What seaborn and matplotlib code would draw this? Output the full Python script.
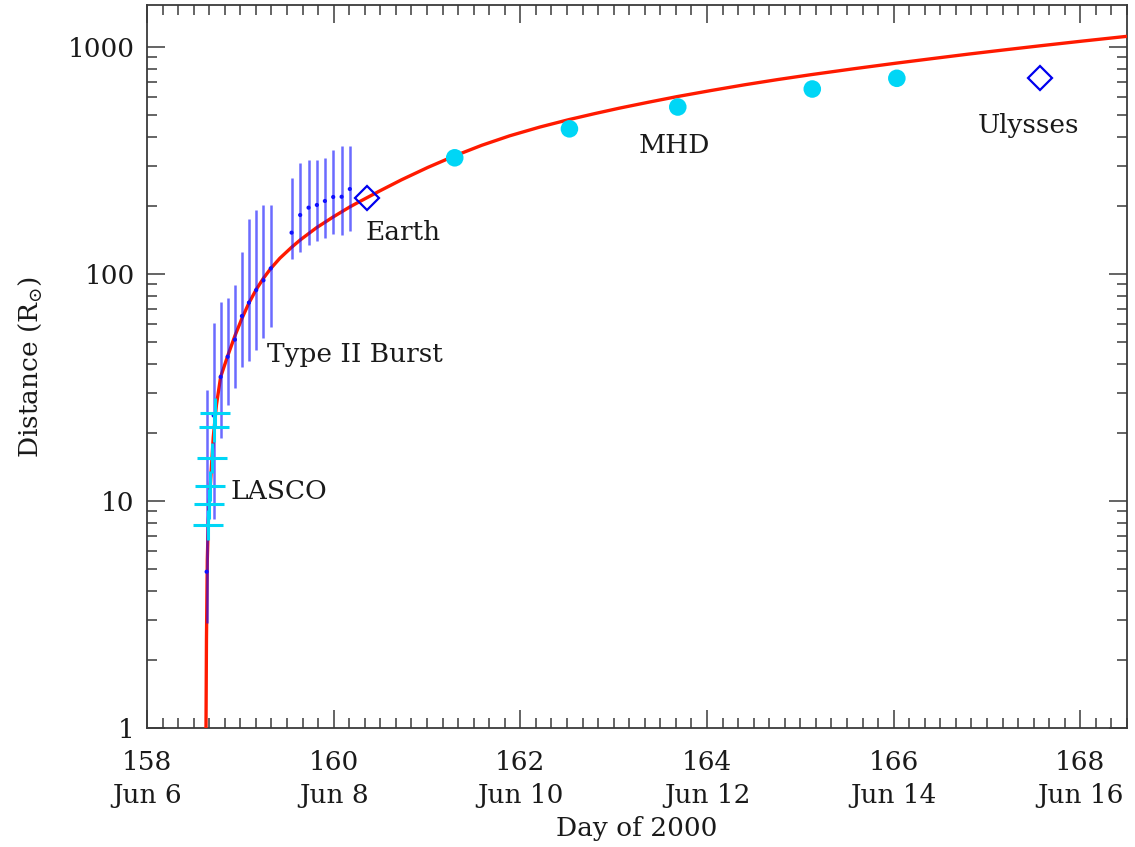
import numpy as np
import pandas as pd
import matplotlib
matplotlib.use("Agg")
import matplotlib.pyplot as plt
import seaborn as sns
from matplotlib.ticker import FixedLocator, MultipleLocator, LogLocator, NullFormatter

# ---------------- data ----------------
fit_day = [158.632, 158.637, 158.646, 158.658, 158.682, 158.710, 158.744, 158.789,
           158.864, 158.942, 159.017, 159.092, 159.170, 159.247, 159.325, 159.424,
           159.549, 159.641, 159.817, 159.995, 160.173, 160.281, 160.495, 160.727,
           161.009, 161.293, 161.587, 161.887, 162.208, 162.521, 162.797, 163.064,
           163.375, 163.681, 164.039, 164.403, 164.756, 165.120, 165.570, 166.026,
           166.415, 166.812, 167.186, 167.570, 168.032, 168.493]
fit_dist = [1.0, 2.44, 5.50, 8.25, 12.4, 19.1, 26.5, 35.2,
            43.5, 53.4, 63.7, 74.5, 85.4, 95.7, 105.6, 117.4,
            131.1, 141.2, 160.0, 178.4, 197.5, 208.7, 232.4, 260.0,
            294.8, 331.0, 369.0, 406.3, 443.8, 478.8, 508.8, 538.0,
            571.3, 604.7, 642.6, 681.6, 718.5, 755.8, 801.7, 848.7,
            889.0, 931.5, 971.0, 1012.3, 1062.7, 1113.5]

typeii_day = [158.639, 158.714, 158.789, 158.864, 158.942, 159.017, 159.092, 159.170,
              159.248, 159.326, 159.549, 159.641, 159.731, 159.820, 159.906, 159.995,
              160.085, 160.173]
typeii_dist = [4.88, 23.8, 35.2, 43.2, 51.4, 65.3, 74.8, 85.0,
               93.8, 105.9, 152.1, 181.9, 196.0, 201.4, 209.7, 218.4,
               218.9, 236.8]
typeii_hi = [30.8, 61.0, 75.5, 78.2, 89.4, 124.6, 174.2, 191.4,
             201.4, 201.4, 264.0, 309.3, 317.8, 317.8, 325.3, 351.8,
             367.5, 367.5]
typeii_lo = [2.90, 8.33, 18.9, 26.5, 31.5, 39.0, 41.5, 46.3,
             52.1, 58.2, 116.1, 124.6, 134.2, 139.8, 144.5, 150.1,
             148.5, 154.6]

lasco_day = [158.658, 158.667, 158.675, 158.693, 158.717, 158.733]
lasco_dist = [7.86, 9.73, 11.7, 15.5, 21.2, 24.4]

mhd_day = [161.297, 162.526, 163.687, 165.128, 166.034]
mhd_dist = [325, 436, 544, 653, 728]

probe_names = ["Earth", "Ulysses"]
probe_day = [160.355, 167.565]
probe_dist = [216, 728]

tick_days = [158, 160, 162, 164, 166, 168]
tick_dates = ["Jun 6", "Jun 8", "Jun 10", "Jun 12", "Jun 14", "Jun 16"]
ytick_vals = [1, 10, 100, 1000]

# ---------------- style ----------------
sns.set_style("ticks")
plt.rcParams["font.family"] = ["DejaVu Serif"]
plt.rcParams["mathtext.fontset"] = "dejavuserif"
plt.rcParams["axes.edgecolor"] = "#3a3a3a"
plt.rcParams["xtick.color"] = "#3a3a3a"
plt.rcParams["ytick.color"] = "#3a3a3a"
plt.rcParams["xtick.labelcolor"] = "#1a1a1a"
plt.rcParams["ytick.labelcolor"] = "#1a1a1a"

CYAN = "#00D6F6"
BLUE = "#1010FF"
RED = "#FF1A00"
FS = 19
TXT = "#1a1a1a"

fig = plt.figure(figsize=(11.35, 8.47), dpi=100)
ax = fig.add_axes([147 / 1135, 1 - 728 / 847, 980 / 1135, 723 / 847])
ax.set_yscale("log")

fit_df = pd.DataFrame({"day": fit_day, "dist": fit_dist})
sns.lineplot(data=fit_df, x="day", y="dist", ax=ax, color=RED, lw=2.4,
             estimator=None, sort=False, zorder=3)

ax.vlines(typeii_day, typeii_lo, typeii_hi, colors=BLUE, alpha=0.62, lw=1.8, zorder=4)
sns.scatterplot(x=typeii_day, y=typeii_dist, ax=ax, color=BLUE, s=9,
                edgecolor="none", zorder=5)

ax.plot(lasco_day, lasco_dist, ls="none", marker="+", ms=22, mew=2.2,
        color=CYAN, zorder=6)

sns.scatterplot(x=mhd_day, y=mhd_dist, ax=ax, color=CYAN, s=160,
                edgecolor="none", zorder=6)

ax.plot(probe_day, probe_dist, ls="none", marker="D", ms=12, mew=1.6,
        mfc="none", mec="#0000EE", zorder=7)

# annotations
ax.text(158.90, 10.96, "LASCO", fontsize=FS, va="center", ha="left", color=TXT)
ax.text(159.285, 44, "Type II Burst", fontsize=FS, va="center", ha="left", color=TXT)
ax.text(160.345, 153, probe_names[0], fontsize=FS, va="center", ha="left", color=TXT)
ax.text(163.65, 370, "MHD", fontsize=FS, va="center", ha="center", color=TXT)
ax.text(167.44, 449, probe_names[1], fontsize=FS, va="center", ha="center", color=TXT)

# axes limits / ticks
ax.set_xlim(158, 168.5)
ax.set_ylim(1, 1531)
ax.xaxis.set_major_locator(FixedLocator(tick_days))
ax.set_xticklabels([f"{d}\n{s}" for d, s in zip(tick_days, tick_dates)],
                   fontsize=FS, linespacing=1.38)
ax.xaxis.set_minor_locator(MultipleLocator(1 / 6))
ax.yaxis.set_major_locator(FixedLocator(ytick_vals))
ax.set_yticklabels([str(v) for v in ytick_vals], fontsize=FS)
ax.yaxis.set_minor_locator(LogLocator(base=10, subs=np.arange(2, 10)))
ax.yaxis.set_minor_formatter(NullFormatter())

ax.tick_params(which="both", direction="in", top=True, right=True, width=1.1)
ax.tick_params(which="major", length=13)
ax.tick_params(which="minor", length=7)
ax.tick_params(axis="x", which="major", pad=16)
ax.tick_params(axis="y", which="major", pad=9)
for sp in ax.spines.values():
    sp.set_linewidth(1.3)

ax.set_xlabel("Day of 2000", fontsize=FS, labelpad=6, color=TXT)
ax.set_ylabel(r"Distance (R$_{\odot}$)", fontsize=FS, labelpad=17, color=TXT)

fig.savefig("out.png", dpi=100)
